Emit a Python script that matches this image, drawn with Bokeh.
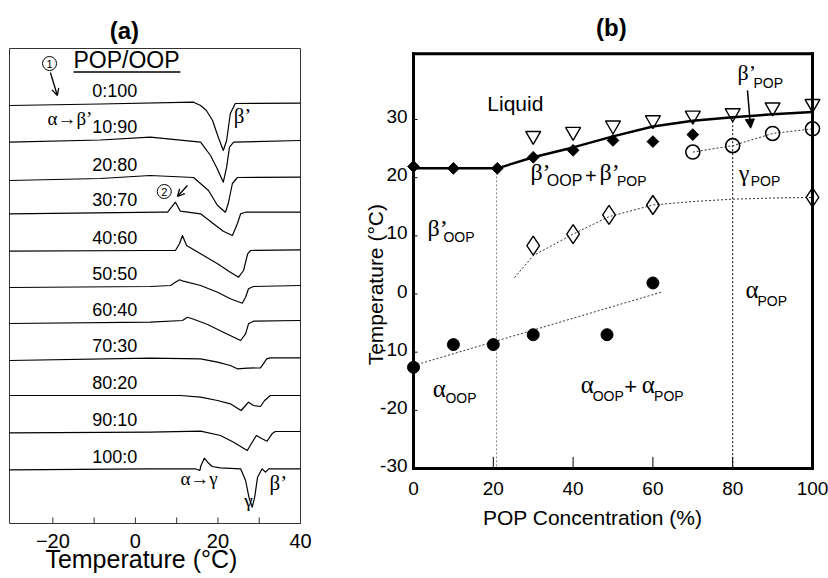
import numpy as np
from bokeh.plotting import figure
from bokeh.layouts import row
from bokeh.models import Range1d, Arrow, OpenHead, NormalHead
from bokeh.core.properties import value
from bokeh.embed import file_html
from bokeh.resources import INLINE

SANS = "Liberation Sans"
SERIF = "Liberation Serif"

# ---------------- panel (a): DSC heating thermograms (T in °C, stacked heat flow a.u.) ----------------
ratios = ["0:100", "10:90", "20:80", "30:70", "40:60", "50:50",
          "60:40", "70:30", "80:20", "90:10", "100:0"]

t_0_100 = [-30.5, -8.5, 14.1, 15.8, 17.2, 18.7, 20.1, 21.3, 22.1, 23.0, 24.2, 40.0]
h_0_100 = [418, 419.5, 421.3, 418, 413, 403, 386, 373, 383, 410, 420, 420.3]
t_10_90 = [-30.5, -8.5, 3.6, 15.8, 18.2, 19.8, 21.3, 22.1, 22.8, 23.8, 40.0]
h_10_90 = [381.3, 383.5, 386.3, 381.3, 368, 355, 341.3, 356.3, 376.3, 381.3, 383]
t_20_80 = [-30.5, -8.5, 3.6, 14.1, 17.7, 19.9, 21.8, 22.5, 23.5, 24.7, 40.0]
h_20_80 = [343, 345, 348, 346, 333, 318, 311.3, 320, 340, 346, 346.3]
t_30_70 = [-30.5, 6.1, 7.8, 9.7, 10.9, 15.8, 18.9, 21.3, 23.5, 24.7, 25.5, 26.7, 40.0]
h_30_70 = [309.7, 311.3, 311.3, 321.3, 312.3, 309.7, 299.7, 292.3, 288, 299.7, 309.7, 311.3, 311.3]
t_40_60 = [-30.5, 3.6, 9.7, 10.7, 11.4, 12.4, 15.8, 19.9, 23.0, 25.0, 26.2, 27.2, 27.9, 40.0]
h_40_60 = [272.3, 273, 273, 280, 288, 278, 269.7, 259.7, 251.3, 246.3, 253, 269.7, 273, 273.7]
t_50_50 = [-30.5, 3.6, 8.5, 9.7, 10.7, 11.6, 15.8, 19.9, 23.0, 25.9, 26.7, 27.4, 28.6, 40.0]
h_50_50 = [236, 237, 238, 241.3, 243.7, 242.3, 238, 231.3, 224.7, 220.3, 226.3, 234.7, 237, 238]
t_60_40 = [-30.5, 3.6, 11.4, 12.6, 13.8, 17.5, 21.3, 25.5, 26.7, 27.4, 28.6, 40.0]
h_60_40 = [200, 201.3, 203, 206.3, 204.7, 199, 191.3, 183, 189.7, 199.7, 202.3, 203]
t_70_30 = [-30.5, 3.6, 15.8, 19.9, 23.0, 24.7, 27.2, 30.3, 31.0, 31.8, 32.7, 40.0]
h_70_30 = [163, 165.3, 164.7, 161.3, 158, 154.7, 155.3, 155.7, 159.7, 164.7, 165.7, 165.7]
t_80_20 = [-30.5, 3.6, 10.9, 15.8, 19.9, 23.0, 25.6, 26.7, 27.4, 28.6, 30.3, 31.3, 32.7, 40.0]
h_80_20 = [128, 128, 128, 126.3, 123, 119.7, 113, 118, 121.3, 118, 117, 123, 128, 128]
t_90_10 = [-30.5, 3.6, 15.8, 20.6, 23.8, 27.1, 28.3, 29.3, 30.7, 31.9, 33.1, 33.9, 40.0]
h_90_10 = [90.7, 91.3, 92.3, 88, 81.3, 73, 81.3, 88, 84.7, 82.3, 89.7, 92, 92]
t_100_0 = [-30.5, 3.6, 14.5, 15.6, 15.9, 16.7, 17.5, 18.6, 20.6, 25.5, 26.7, 27.5, 28.3,
           28.9, 29.6, 30.7, 31.5, 32.3, 33.5, 40.0]
h_100_0 = [53.7, 54.7, 54.7, 53, 58, 65.3, 61.3, 57, 55.7, 54.7, 43, 26.3, 16.3,
           26.3, 46.3, 54.7, 51.3, 54.7, 54.7, 54.7]

dsc_T = [t_0_100, t_10_90, t_20_80, t_30_70, t_40_60, t_50_50,
         t_60_40, t_70_30, t_80_20, t_90_10, t_100_0]
dsc_H = [h_0_100, h_10_90, h_20_80, h_30_70, h_40_60, h_50_50,
         h_60_40, h_70_30, h_80_20, h_90_10, h_100_0]

a_xlim = [-30.5, 40.0]
a_ylim = [0, 475]
a_ticks = [-20, 0, 20, 40]
a_minor = [-10, 10, 30]

# ---------------- panel (b): binary phase diagram ----------------
b_xticks = [0, 20, 40, 60, 80, 100]
b_yticks = [-30, -20, -10, 0, 10, 20, 30]
b_ytop = 41.3

liq_conc = [0, 10, 21, 30, 40, 50, 60, 70, 80, 90, 100]
liq_temp = [21.6, 21.6, 21.6, 23.5, 25.2, 27.1, 28.8, 29.8, 30.4, 30.9, 31.3]
boop_conc = [0, 10, 21, 30, 40, 50, 60, 70]
boop_temp = [21.9, 21.6, 21.6, 23.5, 24.7, 26.4, 26.2, 27.4]
melt_conc = [30, 40, 50, 60, 70, 80, 90, 100]
melt_temp = [27.2, 27.9, 29.0, 29.9, 30.7, 31.1, 32.1, 32.7]
gam_conc = [70, 80, 90, 100]
gam_temp = [24.4, 25.5, 27.6, 28.4]
trans_conc = [30, 40, 49, 60, 100]
trans_temp = [8.3, 10.3, 13.6, 15.3, 16.6]
trans_fit_conc = [25.3, 30, 40, 49, 60, 70, 80, 90, 100]
trans_fit_temp = [2.8, 6.6, 10.3, 13.3, 15.3, 15.9, 16.3, 16.5, 16.6]
alpha_conc = [0, 10, 20, 30, 48.5, 60]
alpha_temp = [-12.6, -8.7, -8.7, -7.0, -7.0, 1.9]
alpha_fit_conc = [0, 62]
alpha_fit_temp = [-12.3, 0.3]
boundary_conc = [20.8, 80]


def put(p, x, y, txt, font, size, align="left", center=False, style="normal", angle=0.0):
    """y is the text baseline (or the visual centre when center=True)."""
    p.text(x=[x], y=[y], text=[txt], text_font=value(font),
           text_font_size=value(f"{size}px"), text_align=value(align),
           text_baseline=value("middle"), text_font_style=value(style),
           y_offset=value(0 if center else -0.35 * size), angle=value(angle),
           text_color="black")


def bare(p):
    p.grid.visible = False
    p.outline_line_color = None
    p.background_fill_color = "white"
    p.border_fill_color = "white"


# ================= panel (a) =================
pa = figure(width=320, height=578, x_range=Range1d(-32.68, 44.845), y_range=Range1d(-55, 523),
            output_backend="svg", toolbar_location=None, x_axis_location=None,
            y_axis_location=None, min_border=0)
bare(pa)

ax0, ax1 = a_xlim
ay0, ay1 = a_ylim
pa.segment(x0=[ax0, ax1, ax0, ax0], y0=[ay0, ay0, ay0, ay1], x1=[ax0, ax1, ax1, ax1],
           y1=[ay1, ay1, ay0, ay1], line_color="#333333", line_width=1)
ticks_all = a_ticks + a_minor
pa.segment(x0=ticks_all, y0=[ay0] * len(ticks_all), x1=ticks_all, y1=[ay0 + 6] * len(ticks_all),
           line_color="#333333", line_width=1)
for t in a_ticks:
    put(pa, t, -17, (f"\u2212{abs(t)}" if t < 0 else str(t)), SANS, 20, align="center", center=True)

for T, H in zip(dsc_T, dsc_H):
    pa.line(T, H, line_color="black", line_width=1.2, line_join="round")

for lab, T, H in zip(ratios, dsc_T, dsc_H):
    put(pa, -5.0, float(np.interp(-5.0, T, H)) + 6, lab, SANS, 18, align="center")

put(pa, -15.0, 455, "POP/OOP", SANS, 23)
pa.segment(x0=[-15.0], y0=[451.5], x1=[10.9], y1=[451.5], line_color="black", line_width=1.3)

put(pa, -21.3, 398, "\u03b1\u2192\u03b2\u2019", SERIF, 19)
put(pa, 23.8, 400, "\u03b2\u2019", SERIF, 21)
put(pa, 10.9, 38, "\u03b1\u2192\u03b3", SERIF, 19)
put(pa, 26.4, 16, "\u03b3", SERIF, 19)
put(pa, 32.5, 33, "\u03b2\u2019", SERIF, 21)

pa.scatter(x=[-20.8, 7.0], y=[460, 332], marker="circle", size=14,
           fill_color=None, line_color="black", line_width=1)
put(pa, -20.8, 460, "1", SANS, 11, align="center", center=True)
put(pa, 7.0, 332, "2", SANS, 11, align="center", center=True)
pa.add_layout(Arrow(end=OpenHead(size=7, line_width=1.3), x_start=-20.6, y_start=451,
                    x_end=-18.9, y_end=428, line_width=1.3))
pa.add_layout(Arrow(end=OpenHead(size=7, line_width=1.3), x_start=12.6, y_start=338,
                    x_end=10.2, y_end=327, line_width=1.3))

put(pa, -2.66, 493, "(a)", SANS, 24, align="center", center=True, style="bold")
put(pa, 1.45, -35, "Temperature (\u00b0C)", SANS, 25, align="center", center=True)

# ================= panel (b) =================
pb = figure(width=508, height=578, x_range=Range1d(-23.31, 104.01),
            y_range=Range1d(-48.907, 50.457), output_backend="svg", toolbar_location=None,
            x_axis_location=None, y_axis_location=None, min_border=0)
bare(pb)

bx0, bx1, by0, by1 = b_xticks[0], b_xticks[-1], b_yticks[0], b_ytop

for t in b_xticks:
    put(pb, t, -33.4, str(t), SANS, 19, align="center", center=True)
for t in b_yticks:
    put(pb, -1.5, t + 0.5, str(t), SANS, 19, align="right", center=True)

xt = b_xticks[1:-1]
pb.segment(x0=xt, y0=[by0] * len(xt), x1=xt, y1=[by0 + 2.0] * len(xt),
           line_color="black", line_width=1)
yt = b_yticks[1:]
pb.segment(x0=[bx0] * len(yt), y0=yt, x1=[bx0 + 1.0] * len(yt), y1=yt,
           line_color="black", line_width=1)

tops = [float(np.interp(c, liq_conc, liq_temp)) for c in boundary_conc]
pb.segment(x0=[boundary_conc[0]], y0=[tops[0]], x1=[boundary_conc[0]], y1=[by0],
           line_color="#888888", line_width=1, line_dash="2 2")
pb.segment(x0=[boundary_conc[1]], y0=[tops[1]], x1=[boundary_conc[1]], y1=[by0],
           line_color="black", line_width=1, line_dash="2 2")

pb.line(trans_fit_conc, trans_fit_temp, line_color="#333333", line_width=1, line_dash="2 2")
pb.line(alpha_fit_conc, alpha_fit_temp, line_color="#333333", line_width=1, line_dash="2 2")
pb.line(gam_conc, gam_temp, line_color="#333333", line_width=1, line_dash="2 2")
pb.line(liq_conc, liq_temp, line_color="black", line_width=2.5)

pb.segment(x0=[bx0, bx1, bx0, bx0], y0=[by0, by0, by0, by1], x1=[bx0, bx1, bx1, bx1],
           y1=[by1, by1, by0, by1], line_color="black", line_width=3, line_cap="square")

pb.scatter(boop_conc, boop_temp, marker="square", angle=np.pi / 4, size=8.3,
           fill_color="black", line_color="black")
pb.scatter(melt_conc, melt_temp, marker="inverted_triangle", size=15,
           fill_color=None, line_color="black", line_width=1.4)
pb.scatter(gam_conc, gam_temp, marker="circle", size=14,
           fill_color=None, line_color="black", line_width=1.6)
pb.scatter(trans_conc, trans_temp, marker="diamond", size=19,
           fill_color=None, line_color="black", line_width=1.4)
pb.scatter(alpha_conc, alpha_temp, marker="circle", size=12,
           fill_color="black", line_color="black")

# region labels
put(pb, 18.5, 31.5, "Liquid", SANS, 21)
put(pb, 29.3, 19.5, "\u03b2\u2019", SERIF, 24)
put(pb, 33.4, 18.5, "OOP", SANS, 16)
put(pb, 43.0, 19.0, "+", SANS, 20)
put(pb, 46.6, 19.5, "\u03b2\u2019", SERIF, 24)
put(pb, 51.0, 18.5, "POP", SANS, 14)

put(pb, 81.2, 36.7, "\u03b2\u2019", SERIF, 22)
put(pb, 85.2, 35.5, "POP", SANS, 14)
pb.add_layout(Arrow(end=NormalHead(size=9, fill_color="black", line_color="black"),
                    x_start=83.7, y_start=35.0, x_end=84.5, y_end=28.5, line_width=1.5))

put(pb, 81.5, 19.3, "\u03b3", SERIF, 24)
put(pb, 84.5, 18.5, "POP", SANS, 14)

put(pb, 3.5, 9.9, "\u03b2\u2019", SERIF, 24)
put(pb, 7.5, 8.9, "OOP", SANS, 14)

put(pb, 83.2, -0.8, "\u03b1", SERIF, 25)
put(pb, 86.2, -2.0, "POP", SANS, 14)

put(pb, 41.9, -17.1, "\u03b1", SERIF, 25)
put(pb, 44.9, -18.3, "OOP", SANS, 14)
put(pb, 52.8, -17.2, "+", SANS, 22)
put(pb, 57.2, -17.1, "\u03b1", SERIF, 25)
put(pb, 60.3, -18.3, "POP", SANS, 14)

put(pb, 4.8, -17.8, "\u03b1", SERIF, 25)
put(pb, 8.0, -18.7, "OOP", SANS, 14)

put(pb, 49.6, 45.8, "(b)", SANS, 24, align="center", center=True, style="bold")
put(pb, 44.9, -38.4, "POP Concentration (%)", SANS, 21, align="center", center=True)
put(pb, -9.5, 1.6, "Temperature (\u00b0C)", SANS, 21, align="center", center=True,
    angle=np.pi / 2)

layout = row(pa, pb)
open("out.html", "w").write(file_html(layout, INLINE))
